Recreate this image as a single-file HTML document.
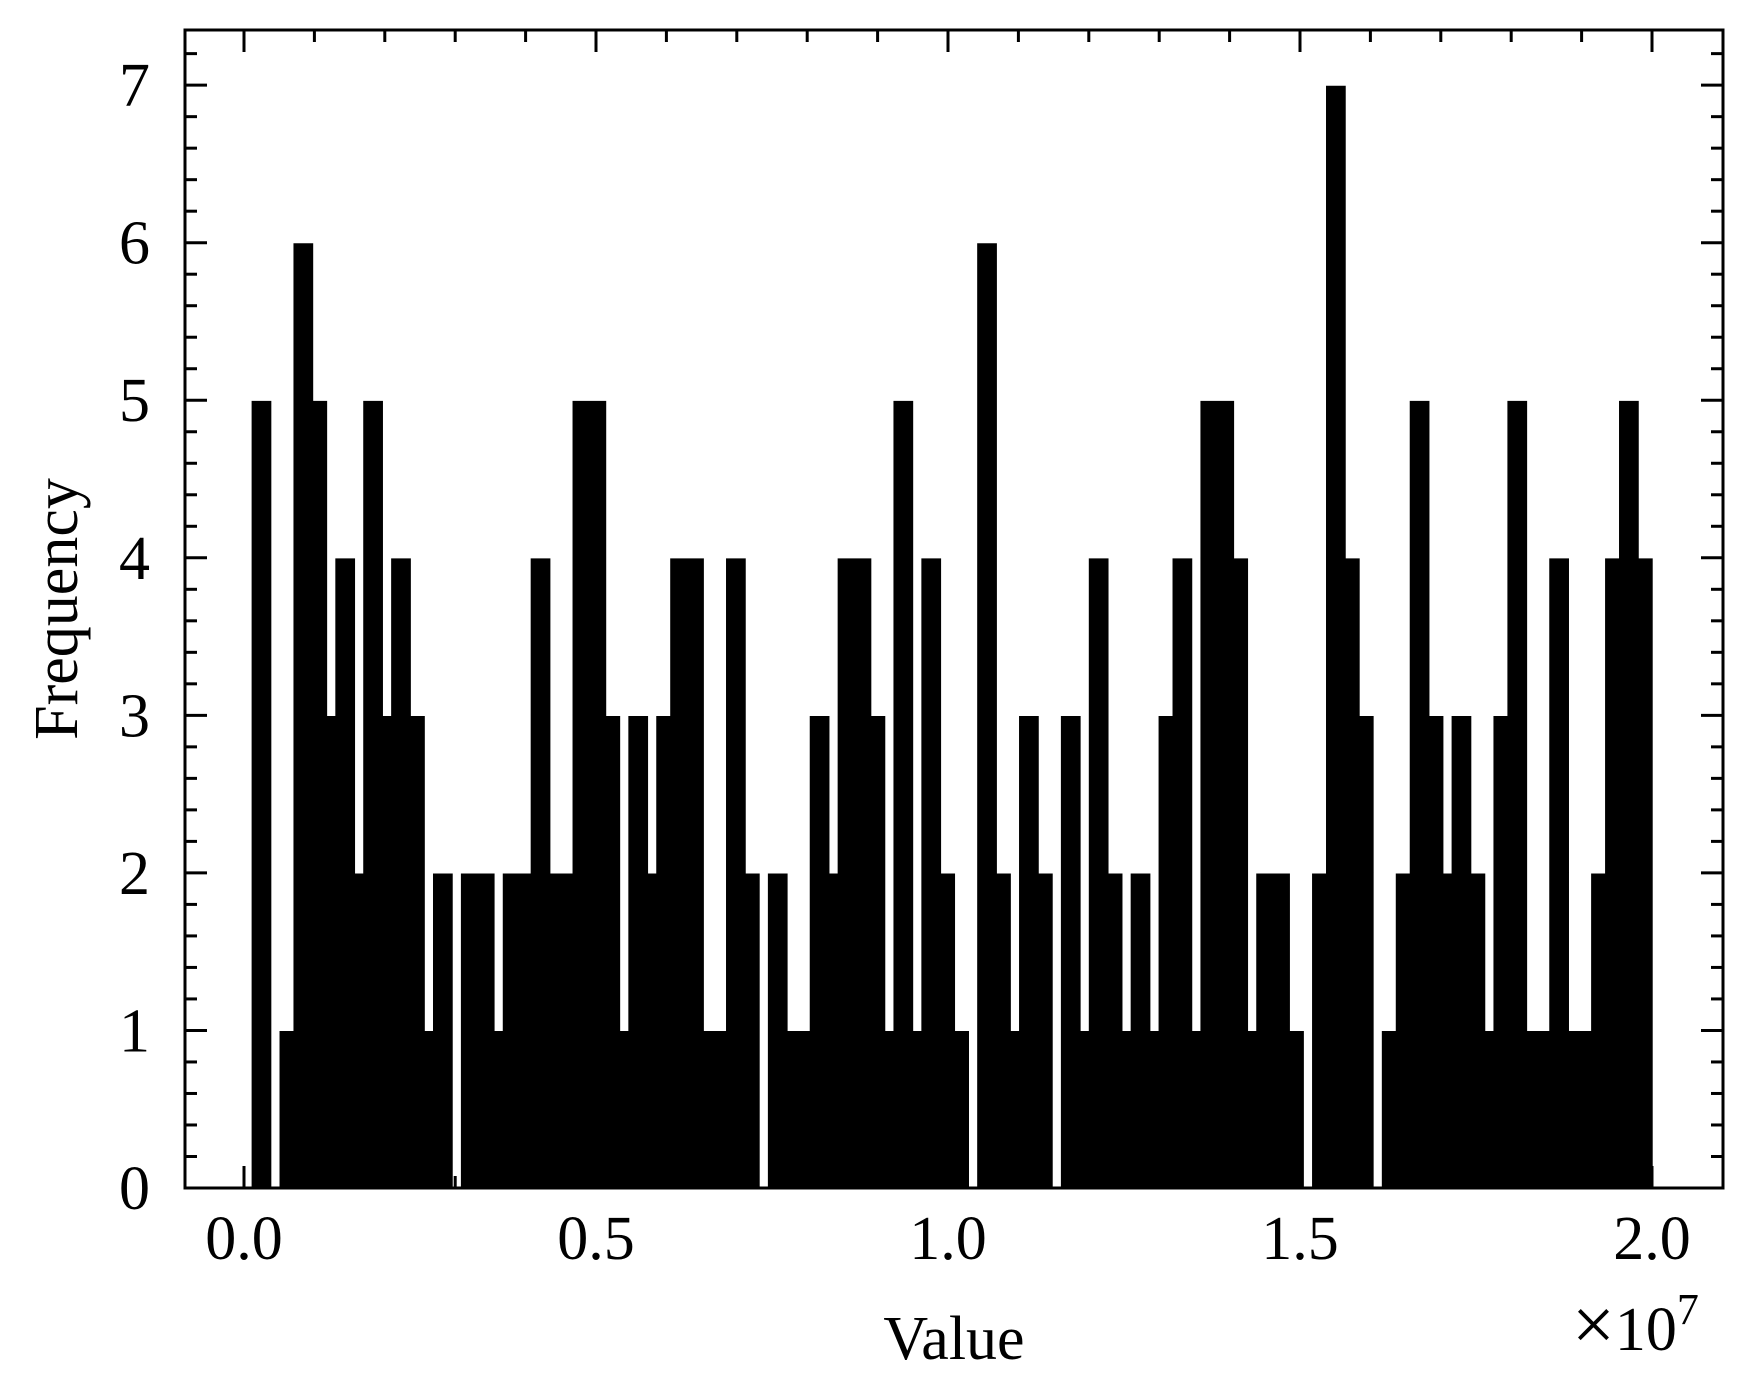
<!DOCTYPE html>
<html><head><meta charset="utf-8"><title>Histogram</title>
<style>html,body{margin:0;padding:0;background:#fff}svg{display:block}text{font-family:"Liberation Serif",serif;fill:#000}</style>
</head><body>
<svg id="chart" width="1749" height="1396" viewBox="0 0 1749 1396" xmlns="http://www.w3.org/2000/svg">
<rect x="0" y="0" width="1749" height="1396" fill="#fff"/>
<g id="bars"></g>
<g id="axes"></g>
</svg>
<script>
const counts = [5,5,5,0,1,1,6,6,6,5,5,3,4,4,4,2,5,5,5,3,4,4,4,3,3,1,2,2,2,0,
2,2,2,2,2,1,2,2,2,2,4,4,4,2,2,2,5,5,5,5,5,3,3,1,3,3,3,2,3,3,
4,4,4,4,4,1,1,1,4,4,4,2,2,0,2,2,2,1,1,1,3,3,3,2,4,4,4,4,4,3,
3,1,5,5,5,1,4,4,4,2,2,1,1,0,6,6,6,2,2,1,3,3,3,2,2,0,3,3,3,1,
4,4,4,2,2,1,2,2,2,1,3,3,4,4,4,1,5,5,5,5,5,4,4,1,2,2,2,2,2,1,
1,0,2,2,7,7,7,4,4,3,3,0,1,1,2,2,5,5,5,3,3,2,3,3,3,2,2,1,3,3,
5,5,5,1,1,1,4,4,4,1,1,1,2,2,4,4,5,5,5,4,4];
const binStart = 0.00995;   // in units of 1e7
const binWidth = 0.00991;   // in units of 1e7
const xTickValues = [0.0, 0.5, 1.0, 1.5, 2.0];
const xTickLabels = ["0.0", "0.5", "1.0", "1.5", "2.0"];
const yTickValues = [0, 1, 2, 3, 4, 5, 6, 7];
const yTickLabels = ["0", "1", "2", "3", "4", "5", "6", "7"];

const L = 185, R = 1723, T = 30, B = 1188;
const X0 = 244, XS = 704;
const YMAX = 7.35;
const xs = v => X0 + v * XS;
const ys = v => B - v / YMAX * (B - T);
const NS = "http://www.w3.org/2000/svg";
function mk(tag, attrs, parent) {
  const e = document.createElementNS(NS, tag);
  for (const k in attrs) e.setAttribute(k, attrs[k]);
  parent.appendChild(e);
  return e;
}
const bars = document.getElementById('bars');
const axes = document.getElementById('axes');

let d = `M${xs(binStart)},${ys(0)}`;
counts.forEach((c, i) => {
  const x1 = xs(binStart + i * binWidth), x2 = xs(binStart + (i + 1) * binWidth);
  d += ` L${x1},${ys(c)} L${x2},${ys(c)}`;
});
d += ` L${xs(binStart + counts.length * binWidth)},${ys(0)} Z`;
const poly = mk('path', {d: d, fill: '#000', stroke: '#fff', 'stroke-width': 1.2}, bars);



counts.forEach((c, i) => {
  const x1 = xs(binStart + i * binWidth), x2 = xs(binStart + (i + 1) * binWidth);
  const r = mk('rect', {x: x1, y: ys(c), width: x2 - x1, height: ys(0) - ys(c), fill: 'none'}, bars);
  
  
});

const frame = mk('rect', {x: L, y: T, width: R - L, height: B - T, fill: 'none', stroke: '#000', 'stroke-width': 3}, axes);



for (let v = 0; v <= 7.3; v += 0.2) {
  const vv = Math.round(v * 10) / 10;
  const major = Math.abs(vv - Math.round(vv)) < 1e-6;
  const len = major ? 22 : 12;
  const y = ys(vv);
  const t1 = mk('line', {x1: L, x2: L + len, y1: y, y2: y, stroke: '#000', 'stroke-width': 3}, axes);
  
  
  const t2 = mk('line', {x1: R, x2: R - len, y1: y, y2: y, stroke: '#000', 'stroke-width': 3}, axes);
  
  
}
yTickValues.forEach((v, i) => {
  const t = mk('text', {x: 150, y: ys(v) + 21, 'font-size': 62, 'text-anchor': 'end'}, axes);
  t.textContent = yTickLabels[i];
  
  
});

for (let k = -1; k <= 21; k++) {
  const v = k / 10;
  const x = xs(v);
  if (x < L + 2 || x > R - 2) continue;
  const major = k % 5 === 0;
  const len = major ? 22 : 12;
  const t1 = mk('line', {x1: x, x2: x, y1: B, y2: B - len, stroke: '#000', 'stroke-width': 3}, axes);
  
  
  const t2 = mk('line', {x1: x, x2: x, y1: T, y2: T + len, stroke: '#000', 'stroke-width': 3}, axes);
  
  
}
xTickValues.forEach((v, i) => {
  const t = mk('text', {x: xs(v), y: 1259, 'font-size': 62, 'text-anchor': 'middle'}, axes);
  t.textContent = xTickLabels[i];
  
  
});

const xt = mk('text', {x: (L + R) / 2, y: 1359, 'font-size': 62, 'text-anchor': 'middle'}, axes);
xt.textContent = 'Value';



const yt = mk('text', {x: 0, y: 0, 'font-size': 62, 'text-anchor': 'middle', transform: `translate(77,${(T + B) / 2}) rotate(-90)`}, axes);
yt.textContent = 'Frequency';



const off = mk('text', {x: 1572, y: 1350, 'font-size': 62}, axes);


const s0 = mk('tspan', {'font-size': 76}, off); s0.textContent = '×';
const s1 = mk('tspan', {}, off); s1.textContent = '10';
const s2 = mk('tspan', {dy: -26, 'font-size': 44}, off); s2.textContent = '7';
</script>
</body></html>
